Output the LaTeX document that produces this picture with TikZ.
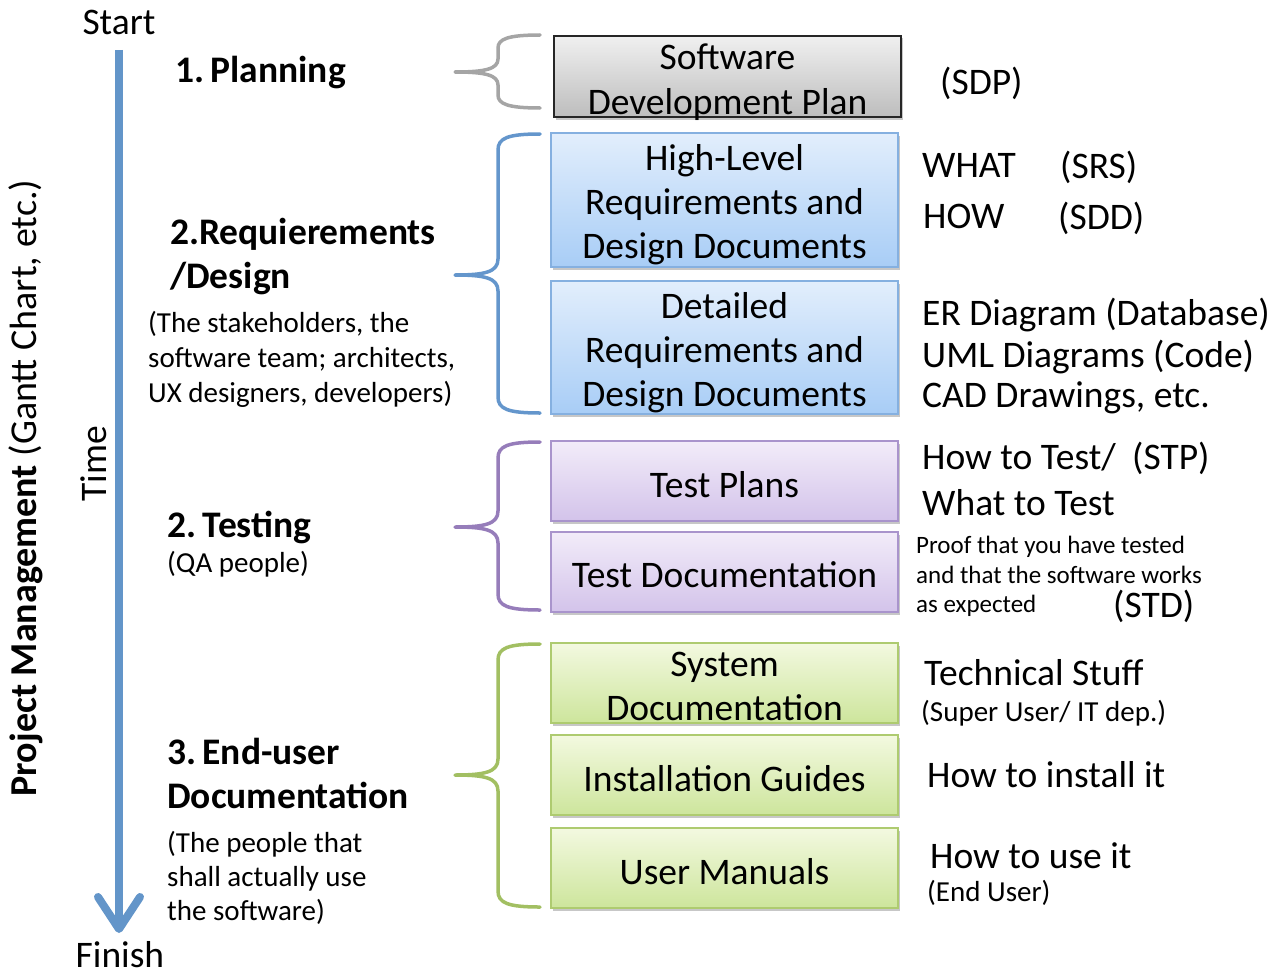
\documentclass[tikz,border=0pt]{standalone}
\usepackage{fontspec}
\setmainfont{Carlito}
\usetikzlibrary{arrows.meta,shadows}
\definecolor{arrowblue}{HTML}{6395C9}
\definecolor{bracegray}{HTML}{A5A5A5}
\definecolor{braceblue}{HTML}{6496CC}
\definecolor{bracepurple}{HTML}{967DBA}
\definecolor{bracegreen}{HTML}{A2BF62}
\definecolor{graytop}{HTML}{F0F0F0}
\definecolor{graybot}{HTML}{BDBDBD}
\definecolor{graydraw}{HTML}{262626}
\definecolor{bluetop}{HTML}{E2EEFC}
\definecolor{bluebot}{HTML}{A8CDF6}
\definecolor{bluedraw}{HTML}{85B0E0}
\definecolor{purptop}{HTML}{F2ECF9}
\definecolor{purpbot}{HTML}{D3C3EA}
\definecolor{purpdraw}{HTML}{A994CC}
\definecolor{greentop}{HTML}{F3F9E0}
\definecolor{greenbot}{HTML}{CDE59C}
\definecolor{greendraw}{HTML}{AECB70}
\newcommand\fsbig{\fontsize{37.5}{44}\selectfont}
\newcommand\fssmall{\fontsize{29}{35}\selectfont}
\newcommand\fstiny{\fontsize{25}{30}\selectfont}
\newcommand\fspm{\fontsize{38}{44}\selectfont}
\newcommand\curlybrace[5]{%
  \draw[brace,#1] (540,#2) .. controls (508,#2) and (498,{#2+4}) .. (498,{#2+#5})
    -- (498,{#3-#5}) .. controls (498,{#3-3}) and (485,#3) .. (455,#3)
    .. controls (485,#3) and (498,{#3+3}) .. (498,{#3+#5})
    -- (498,{#4-#5}) .. controls (498,{#4-4}) and (508,#4) .. (540,#4);}
\begin{document}
\begin{tikzpicture}[x=1pt,y=-1pt,
  lb/.style={anchor=base west, inner sep=0pt, font=\fsbig},
  ls/.style={anchor=base west, inner sep=0pt, font=\fssmall},
  lt/.style={anchor=base west, inner sep=0pt, font=\fstiny},
  bt/.style={anchor=base, inner sep=0pt, font=\fsbig},
  box/.style={line width=1.5pt, minimum width=347pt, inner sep=0pt,
    drop shadow={opacity=0.22, shadow xshift=1.5pt, shadow yshift=-2.5pt, fill=black}},
  graybox/.style={box, draw=graydraw, top color=graytop, bottom color=graybot},
  bluebox/.style={box, draw=bluedraw, top color=bluetop, bottom color=bluebot},
  purpbox/.style={box, draw=purpdraw, top color=purptop, bottom color=purpbot},
  greenbox/.style={box, draw=greendraw, top color=greentop, bottom color=greenbot},
  brace/.style={line width=3.5pt, line cap=round, line join=round},
  timeline/.style={draw=arrowblue, line width=8pt, -{Straight Barb[length=32pt,width=42pt,round]}}
]
\useasboundingbox (0,0) rectangle (1285,974);

% time axis
\node[bt] (start) at (119,35) {Start};
\node[bt] (finish) at (120,967) {Finish};
\coordinate (tstart) at (119,50);
\coordinate (tend) at (119,933);
\draw[timeline] (tstart) -- (tend);
\node[rotate=90, inner sep=0pt, font=\fsbig] (time) at (94,464) {Time};
\node[rotate=90, inner sep=0pt, font=\fspm] (pm) at (26,488) {\textbf{Project Management} (Gantt Chart, etc.)};

% braces
\curlybrace{draw=bracegray}{35}{72}{108}{13}
\curlybrace{draw=braceblue}{134}{275}{413}{16}
\curlybrace{draw=bracepurple}{442}{527}{610}{16}
\curlybrace{draw=bracegreen}{644}{775}{907}{16}

% boxes
\node[graybox, minimum height=81pt] (sdp) at (727.5,76.5) {};
\node[bluebox, minimum height=134pt] (hl) at (724.5,200) {};
\node[bluebox, minimum height=133pt] (det) at (724.5,347.5) {};
\node[purpbox, minimum height=80pt] (tp) at (724.5,481) {};
\node[purpbox, minimum height=80pt] (td) at (724.5,572) {};
\node[greenbox, minimum height=80pt] (sd) at (724.5,683) {};
\node[greenbox, minimum height=80pt] (ig) at (724.5,775) {};
\node[greenbox, minimum height=80pt] (um) at (724.5,868) {};

% box texts
\node[bt] (sdp1) at (727.5,70) {Software};
\node[bt] (sdp2) at (727.5,114) {Development Plan};
\node[bt] (hl1) at (724.5,170) {High-Level};
\node[bt] (hl2) at (724.5,214) {Requirements and};
\node[bt] (hl3) at (724.5,258) {Design Documents};
\node[bt] (det1) at (724.5,318) {Detailed};
\node[bt] (det2) at (724.5,362) {Requirements and};
\node[bt] (det3) at (724.5,406) {Design Documents};
\node[bt] (tp1) at (724.5,497) {Test Plans};
\node[bt] (td1) at (724.5,587) {Test Documentation};
\node[bt] (sd1) at (724.5,676) {System};
\node[bt] (sd2) at (724.5,720) {Documentation};
\node[bt] (ig1) at (724.5,791) {Installation Guides};
\node[bt] (um1) at (724.5,884) {User Manuals};

% left labels
\node[lb] (plan) at (175,82) {\textbf{1.\kern-2pt\ Planning}};
\node[lb] (req1) at (170,244) {\textbf{2.Requierements}};
\node[lb] (req2) at (170,288) {\textbf{/Design}};
\node[ls] (req3) at (148,332) {(The stakeholders, the};
\node[ls] (req4) at (148,367) {software team; architects,};
\node[ls] (req5) at (148,402) {UX designers, developers)};
\node[lb] (tst1) at (167,537) {\textbf{2.\kern-2pt\ Testing}};
\node[ls] (tst2) at (167,572) {(QA people)};
\node[lb] (eu1) at (167,764) {\textbf{3.\kern-2pt\ End-user}};
\node[lb] (eu2) at (167,808) {\textbf{Documentation}};
\node[ls] (eu3) at (167,852) {(The people that};
\node[ls] (eu4) at (167,886) {shall actually use};
\node[ls] (eu5) at (167,920) {the software)};

% right labels
\node[lb] (sdpl) at (940,95) {(SDP)};
\node[lb] (what) at (922,177) {WHAT};
\node[lb] (srs) at (1060,178) {(SRS)};
\node[lb] (how) at (923,228) {HOW};
\node[lb] (sdd) at (1058,229) {(SDD)};
\node[lb] (er) at (922,325) {ER Diagram (Database)};
\node[lb] (uml) at (922,367) {UML Diagrams (Code)};
\node[lb] (cad) at (922,407) {CAD Drawings, etc.};
\node[lb] (howtest) at (922,469) {How to Test/};
\node[lb] (stp) at (1132,469) {(STP)};
\node[lb] (whattest) at (922,515) {What to Test};
\node[lt] (proof1) at (916,553) {Proof that you have tested};
\node[lt] (proof2) at (916,583) {and that the software works};
\node[lt] (proof3) at (916,612) {as expected};
\node[lb] (std) at (1113,617) {(STD)};
\node[lb] (tech) at (924,685) {Technical Stuff};
\node[ls] (super) at (921,721) {(Super User/ IT dep.)};
\node[lb] (install) at (927,787) {How to install it};
\node[lb] (use) at (930,868) {How to use it};
\node[ls] (enduser) at (927,901) {(End User)};
\end{tikzpicture}
\end{document}
